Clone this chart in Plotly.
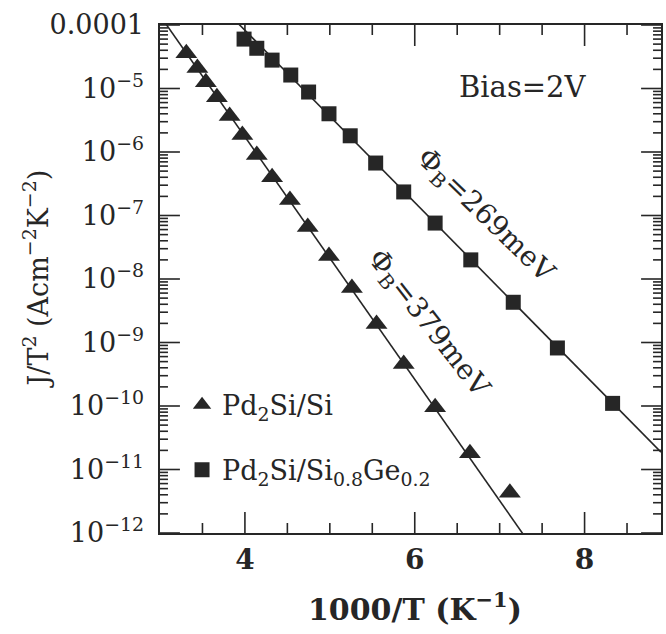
import numpy as np
import plotly.graph_objects as go

# ---- data (1000/T in K^-1, J/T^2 in A cm^-2 K^-2) ----
x_si = [3.31, 3.44, 3.54, 3.67, 3.82, 3.97, 4.14, 4.32, 4.53, 4.74, 4.99, 5.26, 5.55, 5.87, 6.24, 6.65, 7.12]
y_si = [3.6e-5, 2.1e-5, 1.26e-5, 7.3e-6, 3.7e-6, 1.85e-6, 9.0e-7, 4.0e-7, 1.75e-7, 6.6e-8, 2.3e-8,
        7.2e-9, 1.95e-9, 4.6e-10, 9.6e-11, 1.8e-11, 4.3e-12]
x_sige = [3.99, 4.14, 4.32, 4.54, 4.75, 4.99, 5.24, 5.54, 5.87, 6.24, 6.66, 7.16, 7.68, 8.33]
y_sige = [6.0e-5, 4.3e-5, 2.8e-5, 1.63e-5, 8.8e-6, 4.0e-6, 1.8e-6, 6.7e-7, 2.35e-7, 7.6e-8, 2.0e-8,
          4.3e-9, 8.2e-10, 1.1e-10]

# thermionic-emission fits: barrier height (eV) and log10 prefactor
phi_si, logA_si = 0.379, 1.88
phi_sige, logA_sige = 0.269, 1.34
k_B = 8.617e-5

x_range = [3.0, 8.9]
y_range_log = [-12, -4]
x_ticks = [4, 6, 8]
x_minor = [3.5, 4.5, 5, 5.5, 6.5, 7, 7.5, 8.5]
y_exps = list(range(-12, -3))
NB = "\u00a0"
y_ticktext = ["10<sup>−12</sup>", "10<sup>−11</sup>", "10<sup>−10</sup>", "10<sup>−9</sup>",
              "10<sup>−8</sup>", "10<sup>−7</sup>", "10<sup>−6</sup>", "10<sup>−5</sup>", "0.0001"]

FONT = "DejaVu Serif"
INK = "#262626"
W, H = 666, 634
ML, MR, MT, MB = 160, 3, 25, 101
PW, PH = W - ML - MR, H - MT - MB

def fit_line(phi, logA, xs):
    slope = phi / (k_B * np.log(10)) / 1000.0
    return 10 ** (logA - slope * xs)

xf = np.linspace(x_range[0], x_range[1], 200)

fig = go.Figure()

# ---- tick marks (inside, all four sides) drawn as a line trace from the tick arrays ----
dx_px = (x_range[1] - x_range[0]) / PW          # x data units per pixel
dy_px = (y_range_log[1] - y_range_log[0]) / PH  # log10 units per pixel
tx, ty = [], []
def seg(xa, ya, xb, yb):
    tx.extend([xa, xb, None]); ty.extend([ya, yb, None])
for vals, ln in ((x_ticks, 21), (x_minor, 10)):
    for v in vals:
        seg(v, 10 ** y_range_log[0], v, 10 ** (y_range_log[0] + ln * dy_px))
        seg(v, 10 ** y_range_log[1], v, 10 ** (y_range_log[1] - ln * dy_px))
y_minor_log = [e + np.log10(m) for e in range(-12, -4) for m in range(2, 10)]
for vals, ln in ((y_exps, 20), (y_minor_log, 8)):
    for v in vals:
        seg(x_range[0], 10 ** v, x_range[0] + ln * dx_px, 10 ** v)
        seg(x_range[1], 10 ** v, x_range[1] - ln * dx_px, 10 ** v)
fig.add_trace(go.Scatter(x=tx, y=ty, mode="lines", line=dict(color=INK, width=1.6),
                         showlegend=False, hoverinfo="skip", connectgaps=False))

fig.add_trace(go.Scatter(x=xf, y=fit_line(phi_si, logA_si, xf), mode="lines",
                         line=dict(color=INK, width=1.6), showlegend=False, hoverinfo="skip"))
fig.add_trace(go.Scatter(x=xf, y=fit_line(phi_sige, logA_sige, xf), mode="lines",
                         line=dict(color=INK, width=1.6), showlegend=False, hoverinfo="skip"))
fig.add_trace(go.Scatter(x=x_si, y=y_si, mode="markers", name="Pd<sub>2</sub>Si/Si",
                         legendgroup="a",
                         marker=dict(symbol="triangle-up", size=19, color=INK)))
fig.add_trace(go.Scatter(x=x_sige, y=y_sige, mode="markers",
                         name="Pd<sub>2</sub>Si/Si<sub>0.8</sub>Ge<sub>0.2</sub>",
                         legendgroup="b",
                         marker=dict(symbol="square", size=15, color=INK)))

y_tickvals = [10.0 ** e for e in y_exps]

fig.update_layout(
    width=W, height=H,
    margin=dict(l=ML, r=MR, t=MT, b=MB),
    paper_bgcolor="white", plot_bgcolor="white",
    font=dict(family=FONT, color=INK, size=27),
    showlegend=True,
    legend=dict(x=0.044, y=0.30, xanchor="left", yanchor="top",
                bgcolor="rgba(0,0,0,0)", font=dict(size=27, family=FONT),
                tracegroupgap=27, itemsizing="trace"),
    xaxis=dict(range=x_range, tickmode="array", tickvals=x_ticks,
               ticktext=[f"<b>{v}</b>" for v in x_ticks], ticks="",
               showline=True, linewidth=2, linecolor=INK, mirror=True,
               showgrid=False, zeroline=False,
               tickfont=dict(size=28, family=FONT)),
    yaxis=dict(type="log", range=y_range_log, tickmode="array", tickvals=y_tickvals,
               ticktext=[t + NB for t in y_ticktext], ticks="",
               showline=True, linewidth=2, linecolor=INK, mirror=True,
               showgrid=False, zeroline=False,
               tickfont=dict(size=27, family=FONT)),
)

fig.add_annotation(x=-0.2485, y=0.5, xref="paper", yref="paper", textangle=-90,
                   text="J/T<sup>2</sup> (Acm<sup>−2</sup>K<sup>−2</sup>)", showarrow=False,
                   xanchor="center", yanchor="middle",
                   font=dict(size=27, family=FONT, color=INK))
fig.add_annotation(x=0.508, y=(533 - 607) / PH, xref="paper", yref="paper",
                   text="<b>1000/T (K<sup>−1</sup>)</b>", showarrow=False,
                   xanchor="center", yanchor="middle",
                   font=dict(size=30, family=FONT, color=INK))
fig.add_annotation(x=7.27, y=-4.98, xref="x", yref="y", text="Bias=2V", showarrow=False,
                   font=dict(size=29, family=FONT, color=INK))
fig.add_annotation(x=6.83, y=-7.01, xref="x", yref="y", text="Φ<sub>B</sub>=269meV",
                   showarrow=False, textangle=44, font=dict(size=28, family=FONT, color=INK))
fig.add_annotation(x=6.16, y=-8.71, xref="x", yref="y", text="Φ<sub>B</sub>=379meV",
                   showarrow=False, textangle=52, font=dict(size=28, family=FONT, color=INK))

fig.write_html("out.html")
